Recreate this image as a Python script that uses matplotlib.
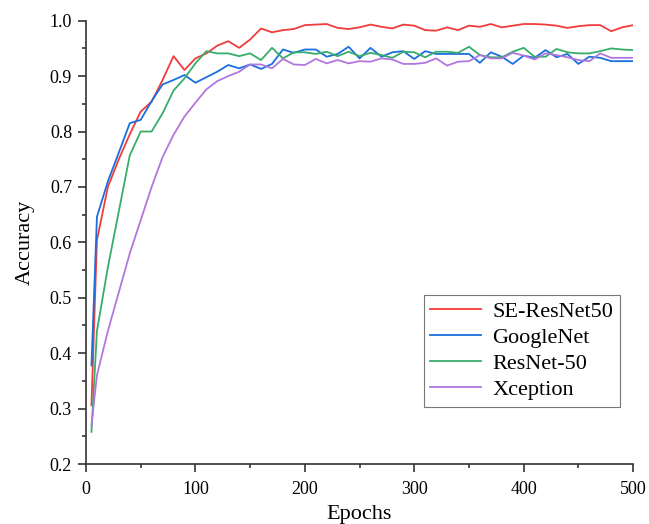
import numpy as np
import matplotlib.pyplot as plt
from matplotlib.ticker import MultipleLocator

plt.rcParams['font.family'] = ['Liberation Serif', 'DejaVu Serif']

epochs = [5] + list(range(10, 501, 10))

se_resnet50 = [0.306, 0.604, 0.700, 0.750, 0.795, 0.836, 0.854, 0.893, 0.936, 0.911,
               0.932, 0.941, 0.955, 0.963, 0.951, 0.966, 0.986, 0.979, 0.983, 0.985,
               0.992, 0.993, 0.994, 0.987, 0.985, 0.988, 0.993, 0.989, 0.986, 0.993,
               0.991, 0.983, 0.982, 0.988, 0.983, 0.991, 0.989, 0.994, 0.988, 0.991,
               0.994, 0.994, 0.993, 0.991, 0.987, 0.990, 0.992, 0.992, 0.981, 0.988,
               0.992]
googlenet = [0.378, 0.646, 0.710, 0.762, 0.815, 0.821, 0.855, 0.885, 0.893, 0.902,
             0.888, 0.898, 0.908, 0.920, 0.914, 0.921, 0.913, 0.922, 0.948, 0.942,
             0.948, 0.948, 0.935, 0.940, 0.953, 0.932, 0.951, 0.935, 0.943, 0.945,
             0.931, 0.945, 0.940, 0.940, 0.940, 0.940, 0.924, 0.943, 0.935, 0.922,
             0.937, 0.933, 0.947, 0.934, 0.940, 0.922, 0.935, 0.933, 0.927, 0.927,
             0.927]
resnet50 = [0.258, 0.440, 0.555, 0.656, 0.757, 0.800, 0.800, 0.833, 0.874, 0.896,
            0.923, 0.945, 0.941, 0.941, 0.936, 0.941, 0.929, 0.951, 0.932, 0.943,
            0.943, 0.940, 0.944, 0.936, 0.944, 0.936, 0.942, 0.938, 0.933, 0.944,
            0.943, 0.934, 0.944, 0.944, 0.942, 0.953, 0.938, 0.934, 0.934, 0.944,
            0.951, 0.935, 0.935, 0.949, 0.943, 0.941, 0.941, 0.945, 0.950, 0.948,
            0.947]
xception = [0.270, 0.360, 0.440, 0.510, 0.580, 0.640, 0.700, 0.754, 0.794, 0.827,
            0.852, 0.876, 0.891, 0.900, 0.908, 0.921, 0.921, 0.914, 0.931, 0.921,
            0.920, 0.931, 0.923, 0.929, 0.923, 0.927, 0.926, 0.932, 0.930, 0.922,
            0.922, 0.924, 0.932, 0.919, 0.926, 0.927, 0.938, 0.932, 0.932, 0.942,
            0.937, 0.930, 0.941, 0.938, 0.934, 0.929, 0.927, 0.941, 0.933, 0.933,
            0.933]

fig = plt.figure(figsize=(6.49, 5.24), dpi=100)
ax = fig.add_axes([0.1325, 0.1145, 0.843, 0.846])

ax.plot(epochs, se_resnet50, color='#f23b3b', lw=1.3, label='SE-ResNet50')
ax.plot(epochs, googlenet, color='#1a6fdf', lw=1.3, label='GoogleNet')
ax.plot(epochs, resnet50, color='#37ad6b', lw=1.3, label='ResNet-50')
ax.plot(epochs, xception, color='#b177de', lw=1.3, label='Xception')

ax.set_xlim(0, 500)
ax.set_ylim(0.2, 1.0)
ax.xaxis.set_major_locator(MultipleLocator(100))
ax.xaxis.set_minor_locator(MultipleLocator(50))
ax.yaxis.set_major_locator(MultipleLocator(0.1))
ax.yaxis.set_minor_locator(MultipleLocator(0.05))
ax.yaxis.set_major_formatter(plt.FormatStrFormatter('%.1f'))

for s in ['top', 'right']:
    ax.spines[s].set_visible(False)
for s in ['left', 'bottom']:
    ax.spines[s].set_linewidth(1.2)
    ax.spines[s].set_color('#333333')
ax.tick_params(which='major', direction='out', length=6, width=1.2,
               color='#333333', labelsize=13)
ax.tick_params(axis='x', which='major', pad=6)
ax.tick_params(axis='y', which='major', pad=4)
ax.tick_params(which='minor', direction='out', length=3, width=1.2, color='#333333')

ax.set_xlabel('Epochs', fontsize=16, labelpad=5)
ax.set_ylabel('Accuracy', fontsize=16, labelpad=11)

leg = ax.legend(loc='lower right', bbox_to_anchor=(0.976, 0.129), borderaxespad=0,
                fontsize=16, fancybox=False, framealpha=1, edgecolor='#777777',
                handlelength=2.3, labelspacing=0.25, borderpad=0.3, handletextpad=0.5)
leg.get_frame().set_linewidth(0.8)

fig.savefig('out.png', dpi=100)
